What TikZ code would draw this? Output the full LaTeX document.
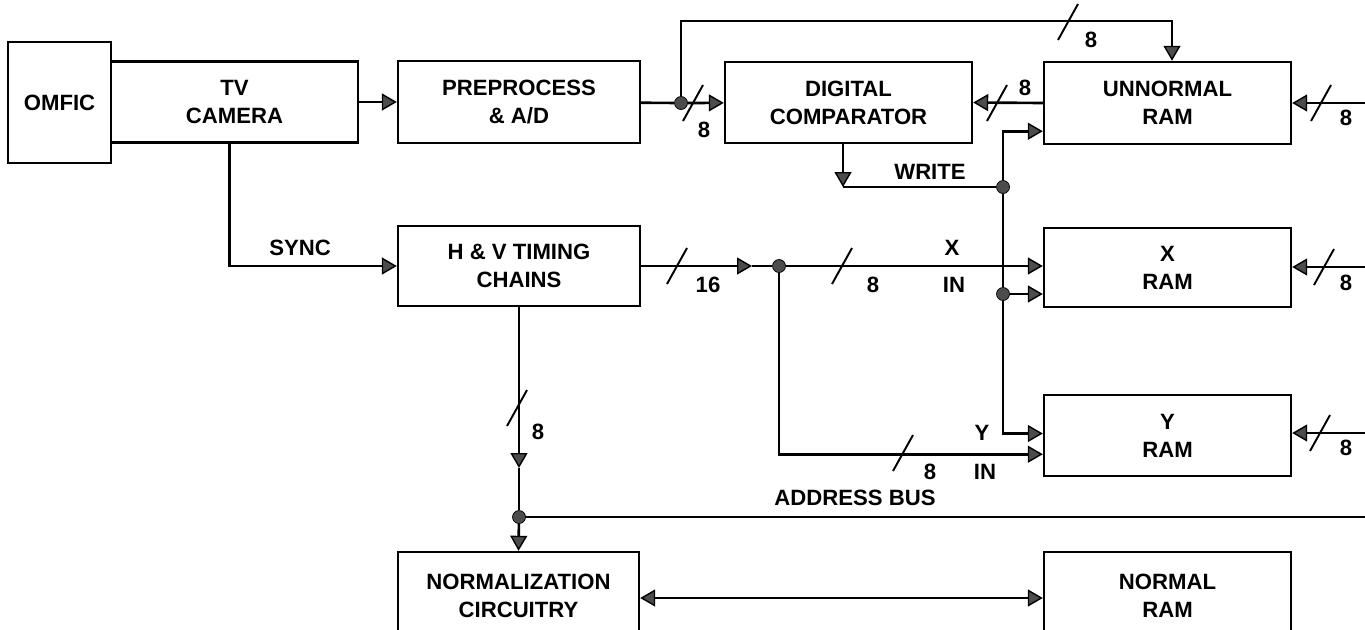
\documentclass[tikz,border=0pt]{standalone}
\usepackage{fontspec}
\setmainfont{Liberation Sans}
\usepackage{tikz}
\usetikzlibrary{arrows.meta,calc}

\tikzset{
  >={Triangle[length=3mm,width=3.4mm,fill=black!70,line width=0.8pt]},
  box/.style={draw,line width=1.4pt,inner sep=0pt,align=center,font=\bfseries\fontsize{12.6}{16}\selectfont},
  sig/.style={line width=1.5pt,->},
  wire/.style={line width=1.5pt},
  slash/.style={line width=1.1pt},
  lbl/.style={inner sep=0pt,font=\bfseries\fontsize{12.6}{14}\selectfont},
  jdot/.style={circle,fill=black!70,draw=black,inner sep=0pt,minimum size=2.6mm}
}
\newcommand{\busmark}[2]{\draw[slash] (#1,#2) ++(-10,18) -- ++(20,-36);}

\begin{document}
\begin{tikzpicture}[x=0.02cm,y=-0.02cm]
  \useasboundingbox (0,0) rectangle (1365,629);
  \clip (0,0) rectangle (1365,629);

  % blocks
  \node[box,minimum width=2.06cm,minimum height=2.42cm] (omfic) at (59.5,102.5) {OMFIC};
  \node[box,minimum width=4.94cm,minimum height=1.62cm] (cam) at (234.5,102) {TV\\CAMERA};
  \node[box,minimum width=4.84cm,minimum height=1.64cm] (pre) at (519,102) {PREPROCESS\\\& A/D};
  \node[box,minimum width=4.94cm,minimum height=1.62cm] (cmp) at (848.5,102.5) {DIGITAL\\COMPARATOR};
  \node[box,minimum width=4.94cm,minimum height=1.64cm] (unr) at (1167.5,103) {UNNORMAL\\RAM};
  \node[box,minimum width=4.84cm,minimum height=1.60cm] (hv) at (519,266) {H \& V TIMING\\CHAINS};
  \node[box,minimum width=4.94cm,minimum height=1.58cm] (xram) at (1167.5,267.5) {X\\RAM};
  \node[box,minimum width=4.94cm,minimum height=1.62cm] (yram) at (1167.5,435.5) {Y\\RAM};
  \node[box,minimum width=4.82cm,minimum height=1.76cm] (norm) at (518.5,596) {NORMALIZATION\\CIRCUITRY};
  \node[box,minimum width=4.94cm,minimum height=1.76cm] (nram) at (1167.5,596) {NORMAL\\RAM};

  % junctions and bends
  \coordinate (fb) at (681,21);
  \coordinate (wc) at (843,187);
  \coordinate (xa) at (752,266);
  \coordinate (ha) at (519,468);
  \coordinate (bus) at (1370,517);
  \coordinate (r1) at (1370,103);
  \coordinate (r2) at (1370,267);
  \coordinate (r3) at (1370,433);
  \node[jdot] (j1) at (681,103) {};
  \node[jdot] (wr) at (1003,187) {};
  \node[jdot] (wx) at (1003,294) {};
  \node[jdot] (xj) at (779,266) {};
  \node[jdot] (aj) at (519,517) {};

  % camera path
  \draw[sig] (cam) -- (pre);
  \draw[sig] ($(cam.south)+(-5,0)$) |- (hv.west);
  \draw[wire] (pre) -- (j1);
  \draw[sig] (j1) -- (cmp);
  \draw[sig] (j1) -- (fb) -| ($(unr.north)+(4.5,0)$);
  \draw[sig] (unr.west) -- (cmp.east);
  \draw[sig] (r1) -- (r1 -| unr.east);
  \draw[sig] (r2) -- (r2 -| xram.east);
  \draw[sig] (r3) -- (r3 -| yram.east);

  % write line
  \draw[sig] ($(cmp.south)+(-5.5,0)$) -- (wc);
  \draw[wire] (wc) -- (wr);
  \draw[sig] (wr) |- ($(unr.south west)+(0,-14)$);
  \draw[wire] (wr) -- (wx);
  \draw[sig] (wx) -- (wx -| xram.west);
  \draw[sig] (wx) |- ($(yram.west)+(0,-2)$);

  % address lines
  \draw[sig] (hv.east) -- (xa);
  \draw[wire] (xa) -- (xj);
  \draw[sig] (xj) -- (xj -| xram.west);
  \draw[sig] (xj) |- ($(yram.south west)+(0,-23)$);
  \draw[sig] (hv.south) -- (ha);
  \draw[wire] (ha) -- (aj);
  \draw[sig] (aj) -- (norm.north);
  \draw[wire] (aj) -- (bus);
  \draw[wire,<->] ($(norm.east)+(0,2)$) -- ($(nram.west)+(0,2)$);

  % bus widths
  \busmark{693}{103}
  \busmark{1068}{22}
  \busmark{997}{103}
  \busmark{1321}{103}
  \busmark{1324}{267}
  \busmark{1320}{433}
  \busmark{677}{266}
  \busmark{842}{266}
  \busmark{903}{453}
  \busmark{517}{408}

  % labels
  \node[lbl] (w1) at (704,130) {8};
  \node[lbl] (w2) at (1091,40) {8};
  \node[lbl] (w3) at (1025,88) {8};
  \node[lbl] (w4) at (1346,118) {8};
  \node[lbl] (w5) at (1346,283) {8};
  \node[lbl] (w6) at (1346,448) {8};
  \node[lbl] (w7) at (708,285) {16};
  \node[lbl] (w8) at (873,285) {8};
  \node[lbl] (w9) at (930,472) {8};
  \node[lbl] (w10) at (538,432) {8};
  \node[lbl] (sync) at (300,248) {SYNC};
  \node[lbl] (write) at (930,172) {WRITE};
  \node[lbl] (xl) at (952,248) {X};
  \node[lbl] (xin) at (954,285) {IN};
  \node[lbl] (yl) at (982,433) {Y};
  \node[lbl] (yin) at (985,472) {IN};
  \node[lbl] (abus) at (855,498) {ADDRESS BUS};
\end{tikzpicture}
\end{document}
